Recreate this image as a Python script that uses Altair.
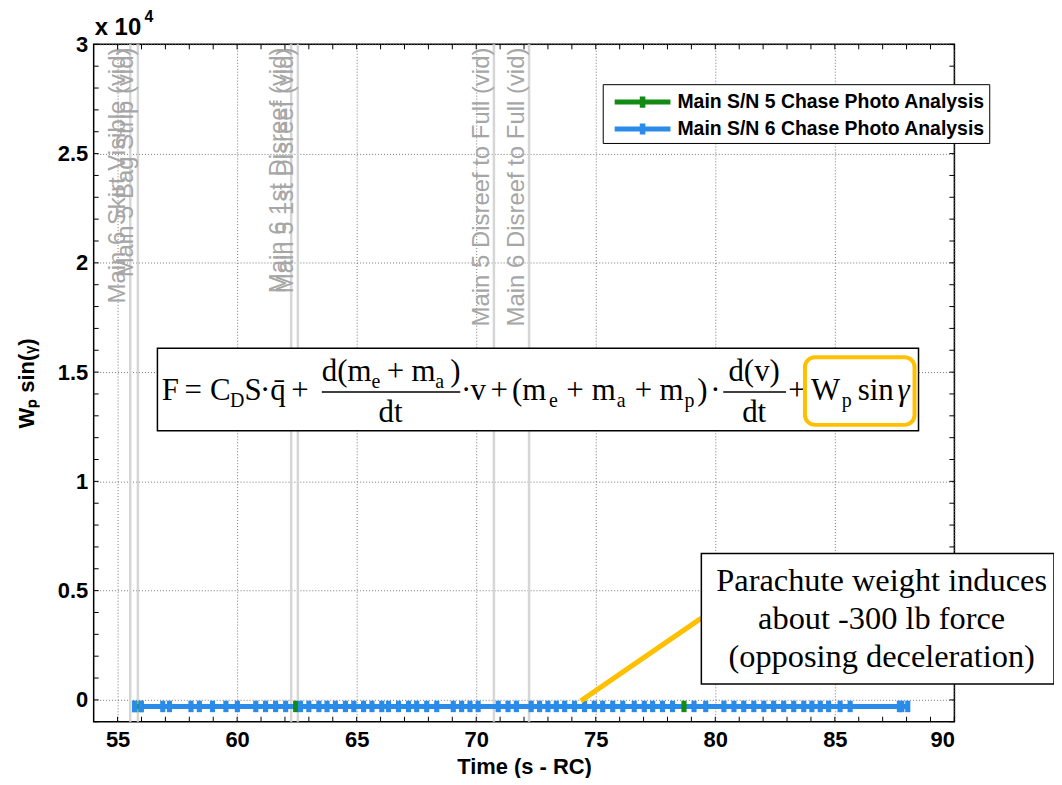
import altair as alt
import pandas as pd

# series (y is W_p*sin(gamma) in lb, shown on a x10^4 axis)
s5_x = [55.72, 55.98, 62.45, 78.69]
s5_y = [-300, -300, -300, -300]

s6_x = [55.71, 55.99, 56.89, 57.17, 58.07, 58.42, 58.97, 59.53, 60.01, 60.78,
        61.19, 61.61, 62.03, 62.65, 63.00, 63.42, 63.76, 64.11, 64.53, 64.88,
        65.29, 65.64, 66.05, 66.33, 66.75, 67.17, 67.51, 67.93, 68.35, 69.04,
        69.39, 69.74, 70.08, 70.92, 71.33, 71.68, 72.30, 72.65, 73.00, 73.35,
        73.70, 74.11, 74.53, 74.94, 75.29, 75.71, 76.13, 76.61, 77.03, 77.38,
        77.79, 78.21, 79.11, 79.60, 80.36, 80.78, 81.19, 81.61, 82.03, 82.44,
        82.86, 83.28, 83.70, 84.04, 84.39, 84.74, 85.22, 85.64, 87.70, 87.80,
        88.05]
s6_y = [-300, -300, -300, -300, -300, -300, -300, -300, -300, -300,
        -300, -300, -300, -300, -300, -300, -300, -300, -300, -300,
        -300, -300, -300, -300, -300, -300, -300, -300, -300, -300,
        -300, -300, -300, -300, -300, -300, -300, -300, -300, -300,
        -300, -300, -300, -300, -300, -300, -300, -300, -300, -300,
        -300, -300, -300, -300, -300, -300, -300, -300, -300, -300,
        -300, -300, -300, -300, -300, -300, -300, -300, -300, -300,
        -300]

series_names = ["Main S/N 5 Chase Photo Analysis", "Main S/N 6 Chase Photo Analysis"]
series_colors = ["#138a13", "#2b8be8"]

event_x = [55.53, 55.85, 62.26, 62.54, 70.74, 72.21]
event_names = ["Main 6 Skirt Visible (vid)", "Main 5 Bag Strip (vid)",
               "Main 6 1st Disreef (vid)", "Main 5 1st Disreef (vid)",
               "Main 5 Disreef to Full (vid)", "Main 6 Disreef to Full (vid)"]

x_ticks = [55, 60, 65, 70, 75, 80, 85, 90]
y_ticks = [0, 5000, 10000, 15000, 20000, 25000, 30000]
x_minor = list(range(55, 91))
y_minor = list(range(-1000, 30001, 1000))

W, H = 864, 680
OX, OY = 94, 43  # page position of the plot area

df = pd.concat([
    pd.DataFrame({"t": s5_x, "w": s5_y, "series": series_names[0], "k": 0}),
    pd.DataFrame({"t": s6_x, "w": s6_y, "series": series_names[1], "k": 1}),
])
events = pd.DataFrame({"t": event_x, "name": event_names, "top": 29850})

xs = alt.Scale(domain=[54, 90], nice=False, zero=False)
ys = alt.Scale(domain=[-1000, 30000], nice=False, zero=False)
color = alt.Scale(domain=series_names, range=series_colors)

X = alt.X("t:Q", scale=xs, title="Time (s - RC)",
          axis=alt.Axis(values=x_ticks, grid=True, ticks=False, domain=False,
                        labelPadding=8, titlePadding=6))
Y = alt.Y("w:Q", scale=ys, title="Wₚ sin(ᵧ)",
          axis=alt.Axis(values=y_ticks, grid=True, ticks=False, domain=False,
                        labelExpr="datum.value / 10000", labelPadding=6,
                        titlePadding=19))

one = alt.Data(values=[{}])


def txt(s, x, y, size=31, align="center", font="Liberation Serif",
        color="black", weight="normal", style="normal"):
    return alt.Chart(one).mark_text(
        text=s, align=align, baseline="alphabetic", font=font, fontSize=size,
        color=color, fontWeight=weight, fontStyle=style
    ).encode(x=alt.value(x - OX), y=alt.value(y - OY))


def box(x1, y1, x2, y2, stroke="black", sw=1.5, fill="white", radius=0):
    return alt.Chart(one).mark_rect(
        stroke=stroke, strokeWidth=sw, fill=fill, cornerRadius=radius
    ).encode(x=alt.value(x1 - OX), x2=alt.value(x2 - OX),
             y=alt.value(y1 - OY), y2=alt.value(y2 - OY))


def seg(x1, y1, x2, y2, color="black", sw=1.5):
    return alt.Chart(one).mark_rule(color=color, strokeWidth=sw).encode(
        x=alt.value(x1 - OX), x2=alt.value(x2 - OX),
        y=alt.value(y1 - OY), y2=alt.value(y2 - OY))


base = alt.Chart(df)

# event lines and their labels
ev_lines = alt.Chart(events).mark_rule(color="#d6d6d6", strokeWidth=2.5).encode(
    x=alt.X("t:Q", scale=xs))
ev_text = alt.Chart(events).mark_text(
    angle=270, align="right", baseline="bottom", font="Liberation Sans",
    fontSize=24, color="#a6a6a6"
).encode(x=alt.X("t:Q", scale=xs), y=alt.Y("top:Q", scale=ys), text="name:N")

# inward ticks on all four sides
xt = pd.DataFrame({"t": x_minor})
yt = pd.DataFrame({"w": y_minor})
ticks = [
    alt.Chart(xt).mark_rule(color="black").encode(
        x=alt.X("t:Q", scale=xs), y=alt.value(H), y2=alt.value(H - 5)),
    alt.Chart(xt).mark_rule(color="black").encode(
        x=alt.X("t:Q", scale=xs), y=alt.value(0), y2=alt.value(5)),
    alt.Chart(yt).mark_rule(color="black").encode(
        y=alt.Y("w:Q", scale=ys), x=alt.value(0), x2=alt.value(5)),
    alt.Chart(yt).mark_rule(color="black").encode(
        y=alt.Y("w:Q", scale=ys), x=alt.value(W), x2=alt.value(W - 5)),
]

# legend glyph: thick line with a plus marker, drawn wider than its layout box
legend_path = "M-2,-0.18H2V0.18H-2Z M-0.2,-0.4H0.2V0.4H-0.2Z"
legend = alt.Legend(
    title=None, orient="none", legendX=511, legendY=40,
    symbolType=legend_path, symbolSize=784, symbolStrokeWidth=0,
    symbolOpacity=1, symbolOffset=22, labelFont="Liberation Sans",
    labelFontSize=19.5, labelFontWeight="bold", labelColor="black",
    labelLimit=400, strokeColor="black", fillColor="white", padding=4,
    rowPadding=3, labelOffset=21)

lines = base.mark_line(strokeWidth=5).encode(
    x=X, y=Y, color=alt.Color("series:N", scale=color, legend=legend),
    detail="series:N", order="t:Q")

plus_path = "M-0.45,-1H0.45V1H-0.45Z"
points = base.mark_point(shape=plus_path, size=132, filled=True, opacity=1).encode(
    x=alt.X("t:Q", scale=xs), y=alt.Y("w:Q", scale=ys),
    color=alt.Color("series:N", scale=color, legend=legend),
    order="k:Q")

# formula box
formula = [
    box(158, 348, 922, 431),
    txt("F", 171, 400), txt("=", 194, 400), txt("C", 221, 400),
    txt("D", 238, 407, size=20), txt("S", 254, 400), txt("·", 266, 400),
    txt("q̄", 279, 400), txt("+", 301, 400),
    txt("d(m", 323, 381, align="left"), txt("e", 373, 388, size=20, align="left"),
    txt("+", 397, 381), txt("m", 413, 381, align="left"),
    txt("a", 437, 388, size=20, align="left"), txt(")", 452, 381, align="left"),
    seg(323, 392, 462, 392), txt("dt", 392, 422),
    txt("·", 468, 400), txt("v", 480, 400), txt("+", 501, 400),
    txt("(m", 514, 400, align="left"), txt("e", 551, 407, size=20, align="left"),
    txt("+", 577, 400), txt("m", 594, 400, align="left"),
    txt("a", 619, 407, size=20, align="left"), txt("+", 646, 400),
    txt("m", 662, 400, align="left"), txt("p", 687, 407, size=20, align="left"),
    txt(")", 700, 400, align="left"), txt("·", 718, 400),
    txt("d(v)", 757, 381), seg(726, 392, 789, 392), txt("dt", 757, 422),
    txt("+", 800, 400),
    txt("W", 814, 400, align="left"), txt("p", 845, 407, size=20, align="left"),
    txt("sin", 861, 400, align="left"),
    txt("γ", 901, 400, align="left", style="italic"),
    box(808, 357, 918, 425, stroke="#ffc000", sw=4, fill="transparent", radius=10),
]

# callout
callout = [
    seg(583, 702, 704, 619, color="#ffc000", sw=5),
    box(704, 554, 1058, 685),
    txt("Parachute weight induces", 885, 592, size=32.5),
    txt("about -300 lb force", 885, 630, size=32.5),
    txt("(opposing deceleration)", 885, 668, size=32.5),
]

exponent = [
    txt("x 10", 95, 34, size=24, align="left", font="Liberation Sans", weight="bold"),
    txt("4", 145, 21, size=16, align="left", font="Liberation Sans", weight="bold"),
]

chart = alt.layer(
    ev_lines, lines, points, ev_text, *ticks, *formula, *callout, *exponent
).properties(
    width=W, height=H,
    padding={"left": OX - 8, "top": OY - 8, "right": 100, "bottom": 55},
    autosize=alt.AutoSizeParams(type="none"),
).configure_view(
    stroke="black", strokeWidth=1.5
).configure_axis(
    labelFont="Liberation Sans", labelFontSize=22, labelFontWeight="bold",
    labelColor="black", titleFont="Liberation Sans", titleFontSize=22,
    titleFontWeight="bold", titleColor="black", gridColor="#777777",
    gridDash=[1, 2], gridWidth=1
)

chart.save("out.html", embed_options={"renderer": "svg", "actions": False})
